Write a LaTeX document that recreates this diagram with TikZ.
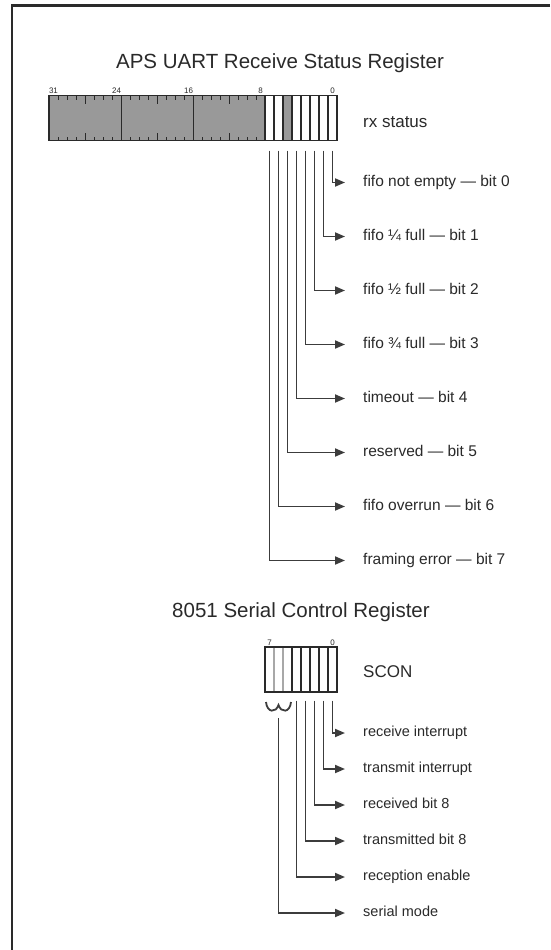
\documentclass[tikz,border=0pt]{standalone}
\usepackage{fontspec}
\setmainfont{Liberation Sans}
\usepackage{tikz}
\usetikzlibrary{arrows.meta}
\newcommand{\bitwidth}{9pt}
\newcommand{\bitheight}{45pt}
\definecolor{regfill}{HTML}{999999}
\definecolor{ink}{HTML}{2A2A2A}
\definecolor{wirecol}{HTML}{3C3C3C}
\definecolor{faint}{HTML}{A8A8A8}
\tikzstyle{bit}=[draw=ink, fill=white, line width=1.1pt, inner sep=0, outer sep=0, minimum width=\bitwidth, minimum height=\bitheight]
\tikzstyle{gbit}=[bit, fill=regfill]
\tikzstyle{sbit}=[bit, draw=faint]
\tikzstyle{tick}=[draw=ink, line width=0.7pt]
\tikzstyle{bitnum}=[inner sep=0, anchor=south, yshift=1.5pt, text=ink, font=\fontsize{8}{9}\selectfont]
\tikzstyle{title}=[inner sep=0, anchor=base, text=ink, font=\fontsize{20.5}{24}\selectfont]
\tikzstyle{regname}=[inner sep=0, anchor=base west, text=ink, font=\fontsize{17}{20}\selectfont]
% Field labels sit with their middle on the arrow.
\tikzstyle{field}=[inner sep=0, anchor=west, text=ink, text height=11pt, text depth=3pt, font=\fontsize{15.5}{18}\selectfont]
\tikzstyle{sfield}=[field, text height=10pt, font=\fontsize{14.5}{17}\selectfont]
\tikzstyle{wire}=[draw=wirecol, line width=1.8pt, -{Triangle[length=10pt, width=8pt]}]
\tikzstyle{frame}=[draw=ink, line width=2.4pt]

\begin{document}
\begin{tikzpicture}[x=1pt, y=-1pt]
        \useasboundingbox (0, 0) rectangle (550, 950);
        \fill[white] (0, 0) rectangle (550, 950);
        \draw[frame] (550, 5.5) -- (12, 5.5) -- (12, 950);
        % receive status register
        \node[title] (uarttitle) at (280, 68) {APS UART Receive Status Register};
        \node[gbit, minimum width=216pt] (hi) at (157, 118) {};
        \foreach \i in {1, 2, 3, 5, 6, 7, 9, 10, 11, 13, 14, 15, 17, 18, 19, 21, 22, 23}
            \draw[tick] ([xshift=\i*\bitwidth]hi.north west) -- +(0, 4) ([xshift=\i*\bitwidth]hi.south west) -- +(0, -4);
        \foreach \i in {4, 12, 20}
            \draw[tick] ([xshift=\i*\bitwidth]hi.north west) -- +(0, 8) ([xshift=\i*\bitwidth]hi.south west) -- +(0, -8);
        \foreach \i in {8, 16}
            \draw[tick] ([xshift=\i*\bitwidth]hi.north west) -- ([xshift=\i*\bitwidth]hi.south west);
        \node[bit] (b7) at (269.5, 118) {};
        \node[bit] (b6) at (278.5, 118) {};
        \node[gbit] (b5) at (287.5, 118) {};
        \node[bit] (b4) at (296.5, 118) {};
        \node[bit] (b3) at (305.5, 118) {};
        \node[bit] (b2) at (314.5, 118) {};
        \node[bit] (b1) at (323.5, 118) {};
        \node[bit] (b0) at (332.5, 118) {};
        \node[bitnum] (n31) at ([xshift=4.5pt]hi.north west) {31};
        \node[bitnum] (n24) at ([xshift=67.5pt]hi.north west) {24};
        \node[bitnum] (n16) at ([xshift=139.5pt]hi.north west) {16};
        \node[bitnum] (n8) at ([xshift=211.5pt]hi.north west) {8};
        \node[bitnum] (n0) at (b0.north) {0};
        \node[regname] (rx) at (363, 127.5) {rx status};
        \node[field] (f0) at (363, 182.5) {fifo not empty — bit 0};
        \node[field] (f1) at (363, 236.5) {fifo ¼ full — bit 1};
        \node[field] (f2) at (363, 290.5) {fifo ½ full — bit 2};
        \node[field] (f3) at (363, 344.5) {fifo ¾ full — bit 3};
        \node[field] (f4) at (363, 398.5) {timeout — bit 4};
        \node[field] (f5) at (363, 452.5) {reserved — bit 5};
        \node[field] (f6) at (363, 506.5) {fifo overrun — bit 6};
        \node[field] (f7) at (363, 560.5) {framing error — bit 7};
        \draw[wire] ([yshift=-10pt]b0.south) |- ([xshift=-18pt]f0.west);
        \draw[wire] ([yshift=-10pt]b1.south) |- ([xshift=-18pt]f1.west);
        \draw[wire] ([yshift=-10pt]b2.south) |- ([xshift=-18pt]f2.west);
        \draw[wire] ([yshift=-10pt]b3.south) |- ([xshift=-18pt]f3.west);
        \draw[wire] ([yshift=-10pt]b4.south) |- ([xshift=-18pt]f4.west);
        \draw[wire] ([yshift=-10pt]b5.south) |- ([xshift=-18pt]f5.west);
        \draw[wire] ([yshift=-10pt]b6.south) |- ([xshift=-18pt]f6.west);
        \draw[wire] ([yshift=-10pt]b7.south) |- ([xshift=-18pt]f7.west);
        % 8051 SCON
        \node[title] (scontitle) at (301, 617) {8051 Serial Control Register};
        \node[sbit] (s7) at (269.5, 669.5) {};
        \node[sbit] (s6) at (278.5, 669.5) {};
        \node[sbit] (s5) at (287.5, 669.5) {};
        \node[bit] (s4) at (296.5, 669.5) {};
        \node[bit] (s3) at (305.5, 669.5) {};
        \node[bit] (s2) at (314.5, 669.5) {};
        \node[bit] (s1) at (323.5, 669.5) {};
        \node[bit] (s0) at (332.5, 669.5) {};
        \draw[draw=ink, line width=1.1pt] (s7.north west) rectangle (s0.south east);
        \node[bitnum] (m7) at (s7.north) {7};
        \node[bitnum] (m0) at (s0.north) {0};
        \node[regname] (scon) at (363, 677) {SCON};
        \node[sfield] (c0) at (363, 733) {receive interrupt};
        \node[sfield] (c1) at (363, 769) {transmit interrupt};
        \node[sfield] (c2) at (363, 805) {received bit 8};
        \node[sfield] (c3) at (363, 841) {transmitted bit 8};
        \node[sfield] (c4) at (363, 877) {reception enable};
        \node[sfield] (c5) at (363, 913) {serial mode};
        \draw[draw=wirecol, line width=1.8pt] (266, 702) .. controls (267, 713) and (276, 713) .. (278.5, 705)
            .. controls (281, 713) and (290, 713) .. (291, 702);
        \coordinate (modesrc) at (278.5, 718);
        \draw[wire] ([yshift=-8.5pt]s0.south) |- ([xshift=-18pt]c0.west);
        \draw[wire] ([yshift=-8.5pt]s1.south) |- ([xshift=-18pt]c1.west);
        \draw[wire] ([yshift=-8.5pt]s2.south) |- ([xshift=-18pt]c2.west);
        \draw[wire] ([yshift=-8.5pt]s3.south) |- ([xshift=-18pt]c3.west);
        \draw[wire] ([yshift=-8.5pt]s4.south) |- ([xshift=-18pt]c4.west);
        \draw[wire] (modesrc) |- ([xshift=-18pt]c5.west);
\end{tikzpicture}
\end{document}
